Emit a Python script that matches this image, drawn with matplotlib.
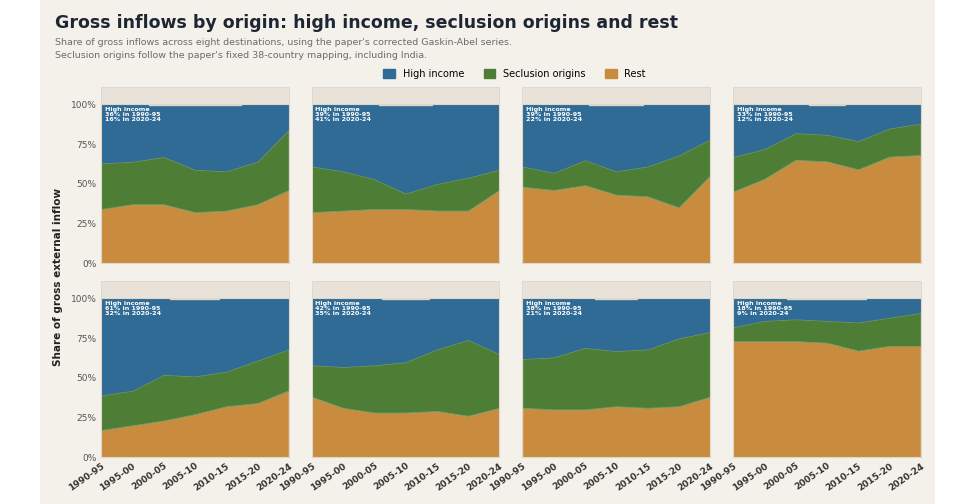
import numpy as np
import matplotlib
matplotlib.use("Agg")
import matplotlib.pyplot as plt
from matplotlib.patches import Rectangle

periods = ["1990-95", "1995-00", "2000-05", "2005-10", "2010-15", "2015-20", "2020-24"]
countries = ["United Kingdom", "Denmark", "Germany", "Spain",
             "Belgium", "Sweden", "France", "United States"]
# shares (%)
rest = [
    [34, 37, 37, 32, 33, 37, 46],
    [32, 33, 34, 34, 33, 33, 46],
    [48, 46, 49, 43, 42, 35, 55],
    [45, 53, 65, 64, 59, 67, 68],
    [17, 20, 23, 27, 32, 34, 42],
    [38, 31, 28, 28, 29, 26, 31],
    [31, 30, 30, 32, 31, 32, 38],
    [73, 73, 73, 72, 67, 70, 70],
]
seclusion = [
    [29, 27, 30, 27, 25, 27, 38],
    [29, 25, 19, 10, 17, 21, 13],
    [13, 11, 16, 15, 19, 33, 23],
    [22, 19, 17, 17, 18, 18, 20],
    [22, 22, 29, 24, 22, 27, 26],
    [20, 26, 30, 32, 39, 48, 34],
    [31, 33, 39, 35, 37, 43, 41],
    [9, 13, 14, 14, 18, 18, 21],
]
hi_start = [36, 39, 39, 33, 61, 42, 38, 18]
hi_end = [16, 41, 22, 12, 32, 35, 21, 9]

c_high = "#2f6b95"
c_secl = "#4e7d36"
c_rest = "#c98b3d"
bg = "#f4f1eb"

fig = plt.figure(figsize=(9.62, 5.04), dpi=100, facecolor="white")
fig.patches.append(Rectangle((0.042, 0), 0.93, 1, transform=fig.transFigure,
                             facecolor=bg, edgecolor="none", zorder=-10))

fig.text(0.057, 0.955, "Gross inflows by origin: high income, seclusion origins and rest",
         fontsize=12.5, fontweight="bold", color="#1e2633", va="center")
fig.text(0.057, 0.915, "Share of gross inflows across eight destinations, using the paper's corrected Gaskin-Abel series.",
         fontsize=6.8, color="#6b6b6b", va="center")
fig.text(0.057, 0.89, "Seclusion origins follow the paper's fixed 38-country mapping, including India.",
         fontsize=6.8, color="#6b6b6b", va="center")

lefts = [0.105, 0.324, 0.543, 0.762]
w = 0.195
bottoms = [0.478, 0.093]
h = 0.315
x = np.arange(len(periods))
axes = []
for i, name in enumerate(countries):
    r, c = divmod(i, 4)
    ax = fig.add_axes([lefts[c], bottoms[r], w, h])
    ax.set_facecolor(bg)
    rr = np.array(rest[i]); ss = np.array(seclusion[i])
    ax.fill_between(x, 0, rr, color=c_rest, lw=0.8, edgecolor="#e0b27a")
    ax.fill_between(x, rr, rr + ss, color=c_secl, lw=0.8, edgecolor="#7a9a60")
    ax.fill_between(x, rr + ss, 100, color=c_high, lw=0)
    ax.set_xlim(0, 6)
    ax.set_ylim(0, 100)
    ax.set_yticks([0, 25, 50, 75, 100])
    if c == 0:
        ax.set_yticklabels(["0%", "25%", "50%", "75%", "100%"], fontsize=6.5, color="#555")
    else:
        ax.set_yticklabels([])
    ax.set_xticks(x)
    if r == 1:
        ax.set_xticklabels(periods, rotation=35, ha="right", fontsize=6.5,
                           fontweight="bold", color="#333", rotation_mode="anchor")
    else:
        ax.set_xticklabels([])
    ax.tick_params(length=0, pad=3)
    for s in ax.spines.values():
        s.set_color("#ddd6ca")
    ax.text(0.02, 0.985, f"High income\n{hi_start[i]}% in 1990-95\n{hi_end[i]}% in 2020-24",
            transform=ax.transAxes, fontsize=4.6, fontweight="bold", color="white",
            va="top", ha="left", linespacing=1.0)
    ax.text(0.5, 1.045, name, transform=ax.transAxes, ha="center", va="center",
            fontsize=6.8, fontweight="bold", color="#222",
            bbox=dict(boxstyle="square,pad=0.3", fc="#e8e2d8", ec="#ddd6ca"))
    fig.patches.append(Rectangle((lefts[c], bottoms[r] + h), w, 0.035,
                                 transform=fig.transFigure, facecolor="#e8e2d8",
                                 edgecolor="#ddd6ca", lw=0.6, zorder=1))
    axes.append(ax)

fig.text(0.06, 0.45, "Share of gross external inflow", rotation=90, fontsize=7.5,
         fontweight="bold", color="#222", ha="center", va="center")

handles = [Rectangle((0, 0), 1, 1, color=col) for col in (c_high, c_secl, c_rest)]
fig.legend(handles, ["High income", "Seclusion origins", "Rest"], loc="center",
           bbox_to_anchor=(0.535, 0.853), ncol=3, frameon=False, fontsize=7,
           handlelength=1.2, handleheight=1.0, columnspacing=2.0)

fig.savefig("out.png", dpi=100, facecolor="white")
